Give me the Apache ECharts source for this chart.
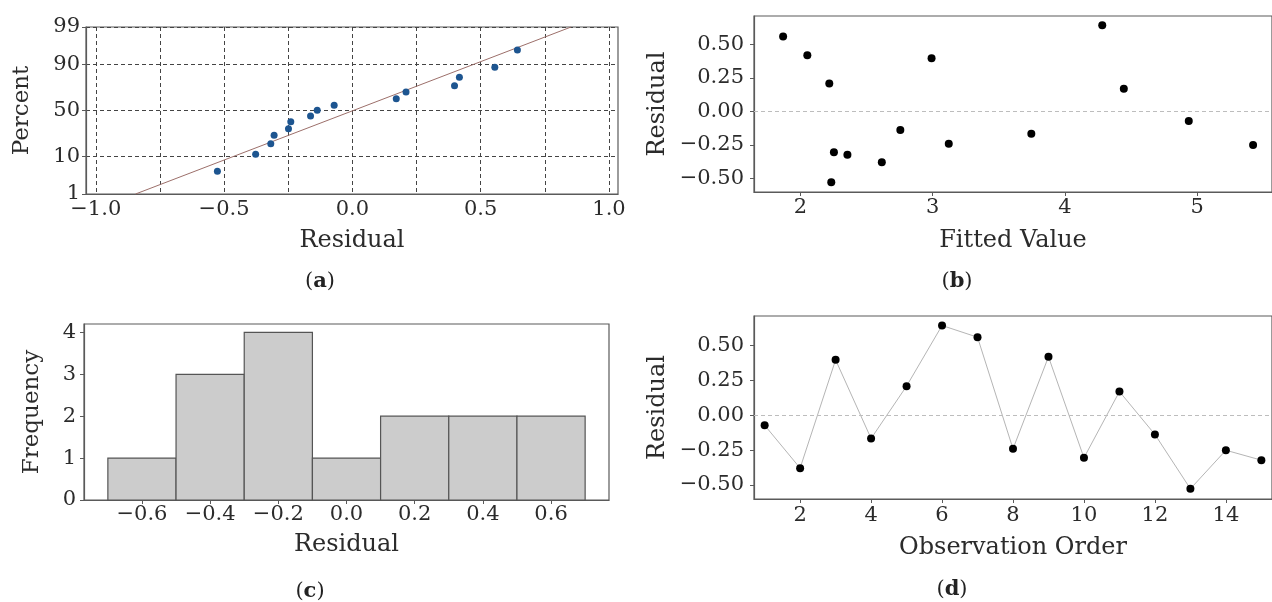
<!DOCTYPE html>
<html>
<head>
<meta charset="utf-8">
<script src="https://cdn.jsdelivr.net/npm/echarts@6/dist/echarts.min.js"></script>
<style>
html,body{margin:0;padding:0;background:#fff;}
#chart{width:1272px;height:602px;}
</style>
</head>
<body>
<div id="chart"></div>
<script>
// ---------- DATA ----------
// (a) normal probability plot
const qqResidual = [-0.526, -0.377, -0.318, -0.305, -0.249, -0.240, -0.163, -0.137, -0.071, 0.171, 0.209, 0.398, 0.417, 0.555, 0.643];
const qqPercent  = [4.5, 11.2, 17.8, 24.5, 30.6, 37.7, 43.8, 50.3, 55.9, 62.7, 69.7, 75.5, 82.2, 88.6, 95.4];
const fitResidual = [-0.845, 0.852];
const fitPercent  = [1, 99];
const percentTicks = [1, 10, 50, 90, 99];
const qqGridTicks  = [-1.0, -0.75, -0.5, -0.25, 0, 0.25, 0.5, 0.75, 1.0];
const qqXLabels    = [-1.0, -0.5, 0, 0.5, 1.0];

// (b) & (d) residuals by observation
const observationOrder = [1, 2, 3, 4, 5, 6, 7, 8, 9, 10, 11, 12, 13, 14, 15];
const fittedValues = [4.936, 2.616, 2.992, 3.746, 2.219, 4.282, 1.870, 3.122, 2.053, 2.254, 4.445, 2.756, 2.234, 5.422, 2.356];
const residuals    = [-0.072, -0.379, 0.396, -0.167, 0.208, 0.642, 0.558, -0.241, 0.418, -0.305, 0.169, -0.138, -0.527, -0.251, -0.322];
const fittedTicks   = [2, 3, 4, 5];
const residualTicks = [-0.5, -0.25, 0, 0.25, 0.5];
const orderTicks    = [2, 4, 6, 8, 10, 12, 14];

// (c) histogram
const binEdges  = [-0.7, -0.5, -0.3, -0.1, 0.1, 0.3, 0.5, 0.7];
const binCounts = [1, 3, 4, 1, 2, 2, 2];
const histXTicks = [-0.6, -0.4, -0.2, 0.0, 0.2, 0.4, 0.6];
const freqTicks  = [0, 1, 2, 3, 4];

// ---------- probability-scale transform (normal quantile) ----------
function probit(p) {
  const a = [-3.969683028665376e+01, 2.209460984245205e+02, -2.759285104469687e+02, 1.383577518672690e+02, -3.066479806614716e+01, 2.506628277459239e+00];
  const b = [-5.447609879822406e+01, 1.615858368580409e+02, -1.556989798598866e+02, 6.680131188771972e+01, -1.328068155288572e+01];
  const c = [-7.784894002430293e-03, -3.223964580411365e-01, -2.400758277161838e+00, -2.549732539343734e+00, 4.374664141464968e+00, 2.938163982698783e+00];
  const d = [7.784695709041462e-03, 3.224671290700398e-01, 2.445134137142996e+00, 3.754408661907416e+00];
  const pl = 0.02425, ph = 1 - pl;
  let q, r;
  if (p < pl) { q = Math.sqrt(-2 * Math.log(p)); return (((((c[0]*q+c[1])*q+c[2])*q+c[3])*q+c[4])*q+c[5]) / ((((d[0]*q+d[1])*q+d[2])*q+d[3])*q+1); }
  if (p <= ph) { q = p - 0.5; r = q*q; return (((((a[0]*r+a[1])*r+a[2])*r+a[3])*r+a[4])*r+a[5])*q / (((((b[0]*r+b[1])*r+b[2])*r+b[3])*r+b[4])*r+1); }
  q = Math.sqrt(-2 * Math.log(1 - p)); return -(((((c[0]*q+c[1])*q+c[2])*q+c[3])*q+c[4])*q+c[5]) / ((((d[0]*q+d[1])*q+d[2])*q+d[3])*q+1);
}
const pz = v => probit(v / 100);

// ---------- styling helpers ----------
const FONT = 'DejaVu Serif';
const TXT = '#2b2b2b';
const SPINE = '#5a5a5a';
const LBL = 21;
const fmt = (v, d) => (v < -1e-9 ? '\u2212' : '') + Math.abs(v).toFixed(d);

function xAxisBase(gridIndex, min, max, labels, ticks, fd, name, nameGap, labelMargin) {
  return {
    type: 'value', gridIndex, min, max, name, nameLocation: 'middle', nameGap,
    nameTextStyle: { fontFamily: FONT, fontSize: 24, color: TXT },
    axisLine: { show: true, onZero: false, lineStyle: { color: SPINE, width: 1.2 } },
    axisTick: { show: true, length: 4, inside: false, customValues: ticks, lineStyle: { color: SPINE } },
    axisLabel: { customValues: labels, margin: labelMargin, fontFamily: FONT, fontSize: LBL, color: TXT,
                 formatter: v => fd === null ? String(v) : fmt(v, fd) },
    splitLine: { show: false }
  };
}
function yAxisBase(gridIndex, min, max, labels, ticks, formatter, name, nameGap, labelMargin, nameSize) {
  return {
    type: 'value', gridIndex, min, max, name, nameLocation: 'middle', nameGap, nameRotate: 90,
    nameTextStyle: { fontFamily: FONT, fontSize: nameSize, color: TXT },
    axisLine: { show: true, onZero: false, lineStyle: { color: SPINE, width: 1.2 } },
    axisTick: { show: true, length: 4, inside: false, customValues: ticks, lineStyle: { color: SPINE } },
    axisLabel: { customValues: labels, margin: labelMargin, fontFamily: FONT, fontSize: LBL, color: TXT, formatter },
    splitLine: { show: false }
  };
}

const gridStyle = { show: true, borderColor: SPINE, borderWidth: 1.2, backgroundColor: 'transparent', containLabel: false };

// (a) axes
const qqX = xAxisBase(0, -1.038, 1.035, qqXLabels, qqGridTicks, 1, 'Residual', 35, 5);
qqX.axisTick.show = false;
qqX.splitLine = { show: true, lineStyle: { color: '#444', width: 1, type: [4, 3] } };
const pTickVals = percentTicks.map(pz);
const qqY = yAxisBase(0, pz(1), pz(99), pTickVals, pTickVals,
  v => { let best = 0, bd = 1e9; percentTicks.forEach(p => { const dd = Math.abs(pz(p) - v); if (dd < bd) { bd = dd; best = p; } }); return String(best); },
  'Percent', 52, 6, 23);
qqY.splitLine = { show: true, lineStyle: { color: '#444', width: 1, type: [4, 3] } };

const option = {
  animation: false,
  backgroundColor: '#fff',
  textStyle: { fontFamily: FONT },
  grid: [
    Object.assign({ left: 86, top: 27, width: 532, height: 167 }, gridStyle),
    Object.assign({ left: 754, top: 16, width: 518, height: 176 }, gridStyle),
    Object.assign({ left: 84, top: 324, width: 525, height: 176 }, gridStyle),
    Object.assign({ left: 754, top: 316, width: 518, height: 183 }, gridStyle)
  ],
  xAxis: [
    qqX,
    xAxisBase(1, 1.65, 5.565, fittedTicks, fittedTicks, null, 'Fitted Value', 37, 5),
    xAxisBase(2, -0.77, 0.77, histXTicks, histXTicks, 1, 'Residual', 33, 4),
    xAxisBase(3, 0.7, 15.3, orderTicks, orderTicks, null, 'Observation Order', 37, 6)
  ],
  yAxis: [
    qqY,
    yAxisBase(1, -0.6, 0.71, residualTicks, residualTicks, v => fmt(v, 2), 'Residual', 84, 10, 24),
    yAxisBase(2, 0, 4.2, freqTicks, freqTicks, v => String(v), 'Frequency', 40, 8, 23),
    yAxisBase(3, -0.6, 0.71, residualTicks, residualTicks, v => fmt(v, 2), 'Residual', 84, 10, 24)
  ],
  series: [
    { type: 'line', xAxisIndex: 0, yAxisIndex: 0, data: fitResidual.map((r, i) => [r, pz(fitPercent[i])]),
      showSymbol: false, symbol: 'none', lineStyle: { color: '#9c6f6a', width: 1 }, z: 3, silent: true },
    { type: 'scatter', xAxisIndex: 0, yAxisIndex: 0, data: qqResidual.map((r, i) => [r, pz(qqPercent[i])]),
      symbolSize: 7, itemStyle: { color: '#1d5590', opacity: 1 }, z: 4 },
    { type: 'scatter', xAxisIndex: 1, yAxisIndex: 1, data: fittedValues.map((f, i) => [f, residuals[i]]),
      symbolSize: 8, itemStyle: { color: '#000', opacity: 1 }, z: 4,
      markLine: { silent: true, symbol: 'none', label: { show: false },
        lineStyle: { color: '#bdbdbd', type: [4, 3], width: 1 }, data: [{ yAxis: 0 }] } },
    { type: 'custom', xAxisIndex: 2, yAxisIndex: 2,
      data: binCounts.map((c, i) => [binEdges[i], binEdges[i + 1], c]),
      renderItem: (params, api) => {
        const p0 = api.coord([api.value(0), api.value(2)]);
        const p1 = api.coord([api.value(1), 0]);
        return { type: 'rect', shape: { x: p0[0], y: p0[1], width: p1[0] - p0[0], height: p1[1] - p0[1] },
          style: { fill: '#cccccc', stroke: '#555', lineWidth: 1.2 } };
      } },
    { type: 'line', xAxisIndex: 3, yAxisIndex: 3, data: observationOrder.map((o, i) => [o, residuals[i]]),
      symbol: 'circle', symbolSize: 8, showSymbol: true,
      itemStyle: { color: '#000', opacity: 1 }, lineStyle: { color: '#b5b5b5', width: 1 }, z: 4,
      markLine: { silent: true, symbol: 'none', label: { show: false },
        lineStyle: { color: '#bdbdbd', type: [4, 3], width: 1 }, data: [{ yAxis: 0 }] } }
  ],
  graphic: [
    ['a', 320, 282], ['b', 957, 282], ['c', 310, 592], ['d', 952, 590]
  ].map(([t, x, y]) => ({
    type: 'text', x, y,
    style: { text: '{p|(}{b|' + t + '}{p|)}', textAlign: 'center', textVerticalAlign: 'middle',
      rich: { p: { fontFamily: FONT, fontSize: 21, fill: '#222', color: '#222' },
              b: { fontFamily: FONT, fontSize: 21, fontWeight: 'bold', fill: '#222', color: '#222' } } }
  }))
};

const chart = echarts.init(document.getElementById('chart'), null, { renderer: 'canvas' });
chart.setOption(option);
</script>
</body>
</html>
